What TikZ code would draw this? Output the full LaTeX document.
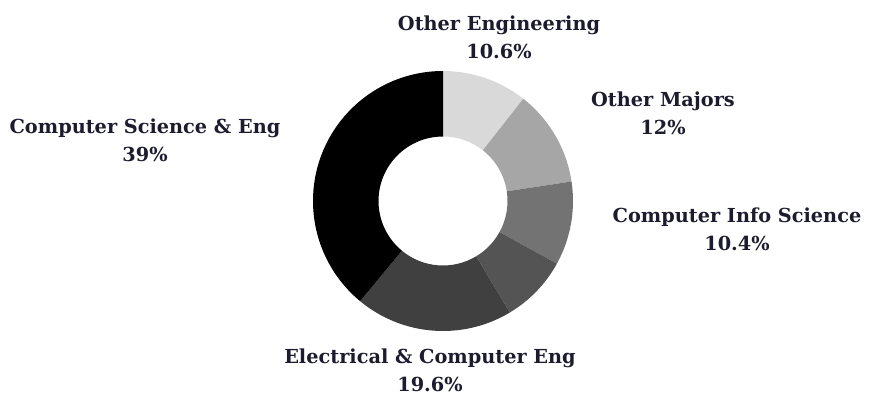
\documentclass[tikz,border=0pt]{standalone}
\usepackage{fontspec}
\setmainfont{DejaVu Serif}
\definecolor{txt}{RGB}{28,28,46}
\definecolor{sA}{HTML}{D9D9D9}
\definecolor{sB}{HTML}{A6A6A6}
\definecolor{sC}{HTML}{737373}
\definecolor{sD}{HTML}{545454}
\definecolor{sE}{HTML}{404040}
\definecolor{sF}{HTML}{000000}
\tikzset{
  lbl/.style={align=center, inner sep=0pt, text=txt, font={\bfseries\fontsize{19.3}{28}\selectfont}},
}
\newcommand{\wedgepart}[3]{%
  \fill[#1] (#2:130) arc[start angle=#2, end angle=#3, radius=130]
    -- (#3:64.5) arc[start angle=#3, end angle=#2, radius=64.5] -- cycle;}
\begin{document}
\begin{tikzpicture}[x=1pt,y=-1pt]
\useasboundingbox (0,0) rectangle (880,396);
\begin{scope}[shift={(443,201)},x=1pt,y=1pt]
  \wedgepart{sA}{90}{51.84}
  \wedgepart{sB}{51.84}{8.64}
  \wedgepart{sC}{8.64}{-28.8}
  \wedgepart{sD}{-28.8}{-59.04}
  \wedgepart{sE}{-59.04}{-129.6}
  \wedgepart{sF}{-129.6}{-270}
\end{scope}
\node[lbl] (oe) at (499,37.5) {Other Engineering\\10.6\%};
\node[lbl] (om) at (663,113.5) {Other Majors\\12\%};
\node[lbl] (cis) at (737,229.5) {Computer Info Science\\10.4\%};
\node[lbl] (ece) at (430,370.5) {Electrical \& Computer Eng\\19.6\%};
\node[lbl] (cse) at (145,140) {Computer Science \& Eng\\39\%};
\end{tikzpicture}
\end{document}
